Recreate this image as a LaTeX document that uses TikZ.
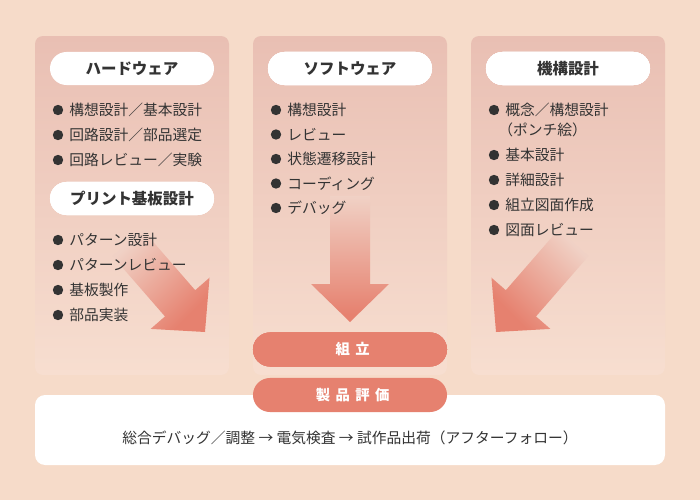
\documentclass[tikz,border=0pt]{standalone}
\usepackage{fontspec}
\setmainfont{Noto Sans CJK JP}
\usetikzlibrary{shapes.misc}

\definecolor{bgpeach}{HTML}{F6DBC9}
\definecolor{paneltop}{HTML}{E9BFB3}
\definecolor{panelbot}{HTML}{F7DED0}
\definecolor{pillred}{HTML}{E6816F}
\definecolor{arrowlight}{HTML}{F0D1C5}
\definecolor{textgray}{HTML}{333333}

\pgfdeclareverticalshading{arrowfade}{100bp}{color(0bp)=(pillred); color(28bp)=(pillred); color(75bp)=(arrowlight); color(100bp)=(arrowlight)}

\tikzset{
  panel/.style={top color=paneltop, bottom color=panelbot, rounded corners=0.2cm},
  titlepill/.style={rounded rectangle, fill=white, minimum width=4.1cm, minimum height=0.825cm, inner sep=0pt, font=\fontsize{11}{13}\selectfont\bfseries},
  redpill/.style={rounded rectangle, fill=pillred, text=white, minimum width=4.85cm, minimum height=0.85cm, inner sep=0pt, font=\fontsize{10.2}{12}\selectfont\bfseries\addfontfeature{LetterSpace=38}, execute at begin node={\hspace*{0.38em}}},
  item/.style={anchor=west, inner sep=0pt}
}

\begin{document}
\begin{tikzpicture}[x=0.025cm, y=-0.025cm, font=\fontsize{10.5}{13}\selectfont, text=textgray]
  \newcommand{\bulletitem}[4]{%
    \fill[textgray] (#2,#3) circle (5.2);
    \node[item] (#1) at (#2+11,#3) {#4};
  }
  % tip x, tip y, rotation, shaft length, shading angle
  \newcommand{\fadearrow}[5]{%
    \begin{scope}[shift={(#1,#2)}, rotate=#3]
      \shade[shading=arrowfade, shading angle=#5] (-38-#4,-20) -- (-38,-20) -- (-38,-39) -- (0,0) -- (-38,39) -- (-38,20) -- (-38-#4,20) -- cycle;
    \end{scope}
  }
  \fill[bgpeach] (0,0) rectangle (700,500);
  % three columns
  \foreach \px in {35,253,471}
    \shade[panel] (\px,36) rectangle ++(194,339);
  % arrows toward assembly
  \fadearrow{205}{332}{-49}{80}{45}
  \fadearrow{350}{322}{-90}{88}{0}
  \fadearrow{496}{332}{-131}{80}{-45}
  % hardware
  \node[titlepill] (hwtitle) at (132,68.5) {ハードウェア};
  \foreach \txt [count=\i] in {構想設計／基本設計, 回路設計／部品選定, 回路レビュー／実験}
    \bulletitem{hw\i}{58}{85+25*\i}{\txt}
  \node[titlepill] (pcbtitle) at (132,198.5) {プリント基板設計};
  \foreach \txt [count=\i] in {パターン設計, パターンレビュー, 基板製作, 部品実装}
    \bulletitem{pcb\i}{58}{215+25*\i}{\txt}
  % software
  \node[titlepill] (swtitle) at (350,68.5) {ソフトウェア};
  \foreach \txt [count=\i] in {構想設計, レビュー, 状態遷移設計, コーディング, デバッグ}
    \bulletitem{sw\i}{276}{85.5+24.5*\i}{\txt}
  % mechanical
  \node[titlepill] (mechtitle) at (568,68.5) {機構設計};
  \bulletitem{mech1}{494}{110}{概念／構想設計}
  \node[item] (mech1b) at (498,130) {（ポンチ絵）};
  \foreach \txt [count=\i] in {基本設計, 詳細設計, 組立図面作成, 図面レビュー}
    \bulletitem{mech\i x}{494}{130+25*\i}{\txt}
  % assembly and evaluation
  \node[redpill] (assembly) at (350,349.5) {組立};
  \fill[white, rounded corners=0.25cm] (35,395) rectangle (665,465);
  \node (flow) at (350,438) {総合デバッグ／調整 → 電気検査 → 試作品出荷（アフターフォロー）};
  \node[redpill] (evaluation) at (350,395) {製品評価};
\end{tikzpicture}
\end{document}
